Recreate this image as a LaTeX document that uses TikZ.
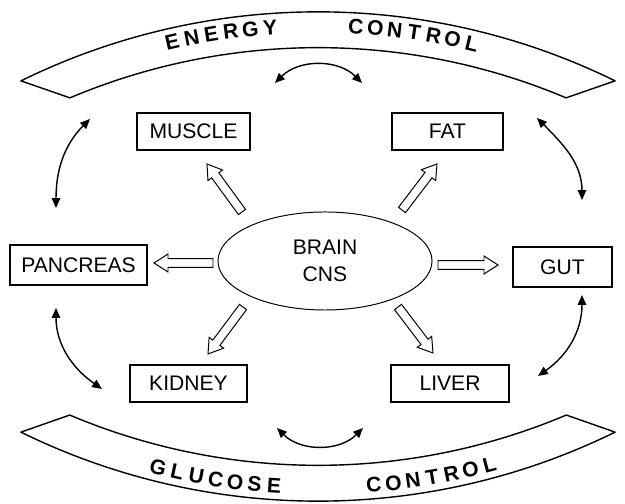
\documentclass[tikz,border=0pt]{standalone}
\usepackage{fontspec}
\setmainfont{Liberation Sans}
\usetikzlibrary{shapes.geometric, arrows.meta, calc}

% open block arrow from #1 (tail) to #2 (tip)
\newcommand{\hollowarrow}[2]{%
  \coordinate (hc) at ($(#2)!0.35cm!(#1)$);
  \draw[hollow] ($(#1)!0.11cm!90:(#2)$) -- ($(hc)!0.11cm!90:(#2)$)
    -- ($(hc)!0.225cm!90:(#2)$) -- (#2) -- ($(hc)!0.225cm!-90:(#2)$)
    -- ($(hc)!0.11cm!-90:(#2)$) -- ($(#1)!0.11cm!-90:(#2)$) -- cycle;
}

\begin{document}
\begin{tikzpicture}[
    x=0.025cm, y=0.025cm,
    organ/.style={draw, line width=0.9pt, minimum height=0.925cm, inner sep=0pt,
                  font=\fontsize{15}{18}\selectfont},
    cns/.style={draw, ellipse, line width=0.7pt, minimum width=5.35cm, minimum height=2.45cm,
                inner sep=0pt, align=center, font=\fontsize{15}{19}\selectfont},
    band/.style={draw, line width=1pt, line join=round},
    arclabel/.style={inner sep=0pt, font=\bfseries\fontsize{15}{15}\selectfont},
    hollow/.style={draw, line width=0.7pt, fill=white},
    feedback/.style={{Triangle[length=7pt, width=6pt]}-{Triangle[length=7pt, width=6pt]}, line width=1pt},
]
\useasboundingbox (0,0) rectangle (625,504);

% the two control bands
\coordinate (ec) at (318,-181.7);
\coordinate (gc) at (318,676.7);
\draw[band] ($(ec)+(116.16:16.8425cm)$) arc[start angle=116.16, end angle=63.84, radius=16.8425cm]
  -- ($(ec)+(67.12:15.9475cm)$) arc[start angle=67.12, end angle=112.88, radius=15.9475cm] -- cycle;
\draw[band] ($(gc)+(243.84:16.8425cm)$) arc[start angle=243.84, end angle=296.16, radius=16.8425cm]
  -- ($(gc)+(292.9:15.9475cm)$) arc[start angle=292.9, end angle=247.1, radius=15.9475cm] -- cycle;

\foreach \ch [count=\i from 0] in {E,N,E,R,G,Y} {
  \pgfmathsetmacro\ang{102.76-\i*1.72}
  \node[arclabel, rotate=\ang-90] (en\i) at ($(ec)+(\ang:16.5cm)$) {\ch};
}
\foreach \ch [count=\i from 0] in {C,O,N,T,R,O,L} {
  \pgfmathsetmacro\ang{86.70-\i*1.695}
  \node[arclabel, rotate=\ang-90] (ec\i) at ($(ec)+(\ang:16.5cm)$) {\ch};
}
\foreach \ch [count=\i from 0] in {G,L,U,C,O,S,E} {
  \pgfmathsetmacro\ang{255.99+\i*1.70}
  \node[arclabel, rotate=\ang+90] (gl\i) at ($(gc)+(\ang:16.5cm)$) {\ch};
}
\foreach \ch [count=\i from 0] in {C,O,N,T,R,O,L} {
  \pgfmathsetmacro\ang{274.86+\i*1.70}
  \node[arclabel, rotate=\ang+90] (gc\i) at ($(gc)+(\ang:16.5cm)$) {\ch};
}

% organs
\node[cns] (brain) at (325,243) {BRAIN\\CNS};
\node[organ, minimum width=2.825cm] (muscle) at (193.5,372.5) {MUSCLE};
\node[organ, minimum width=2.775cm] (fat) at (447.5,372.5) {FAT};
\node[organ, minimum width=3.425cm, minimum height=1cm] (pancreas) at (78.5,239) {PANCREAS};
\node[organ, minimum width=2.475cm, minimum height=1cm] (gut) at (562.5,237) {GUT};
\node[organ, minimum width=2.925cm] (kidney) at (188.5,120.5) {KIDNEY};
\node[organ, minimum width=2.95cm] (liver) at (450,120.5) {LIVER};

% brain outputs
\coordinate (mu-t) at (242,292);  \coordinate (mu-h) at (207,340);
\coordinate (fa-t) at (402,294);  \coordinate (fa-h) at (437,340);
\coordinate (pa-t) at (213,241);  \coordinate (pa-h) at (154,241);
\coordinate (gu-t) at (438,239);  \coordinate (gu-h) at (498,239);
\coordinate (ki-t) at (243,197);  \coordinate (ki-h) at (208,150);
\coordinate (li-t) at (398,197);  \coordinate (li-h) at (433,151);
\hollowarrow{mu-t}{mu-h}
\hollowarrow{fa-t}{fa-h}
\hollowarrow{pa-t}{pa-h}
\hollowarrow{gu-t}{gu-h}
\hollowarrow{ki-t}{ki-h}
\hollowarrow{li-t}{li-h}

% feedback loops
\coordinate (top-a) at (275,421);  \coordinate (top-b) at (362,421);
\coordinate (bot-a) at (277,76);   \coordinate (bot-b) at (363,76);
\coordinate (lt-a) at (90,385);    \coordinate (lt-b) at (56,296);
\coordinate (rt-a) at (537,386);   \coordinate (rt-b) at (582,304);
\coordinate (lb-a) at (56,196);    \coordinate (lb-b) at (102,115);
\coordinate (rb-a) at (582,209);   \coordinate (rb-b) at (538,128);
\draw[feedback] (top-a) to[out=45, in=135] (top-b);
\draw[feedback] (bot-a) to[out=-45, in=-135] (bot-b);
\draw[feedback] (lt-a) to[out=225, in=90] (lt-b);
\draw[feedback] (rt-a) to[out=-45, in=90] (rt-b);
\draw[feedback] (lb-a) to[out=270, in=145] (lb-b);
\draw[feedback] (rb-a) to[out=270, in=35] (rb-b);
\end{tikzpicture}
\end{document}
